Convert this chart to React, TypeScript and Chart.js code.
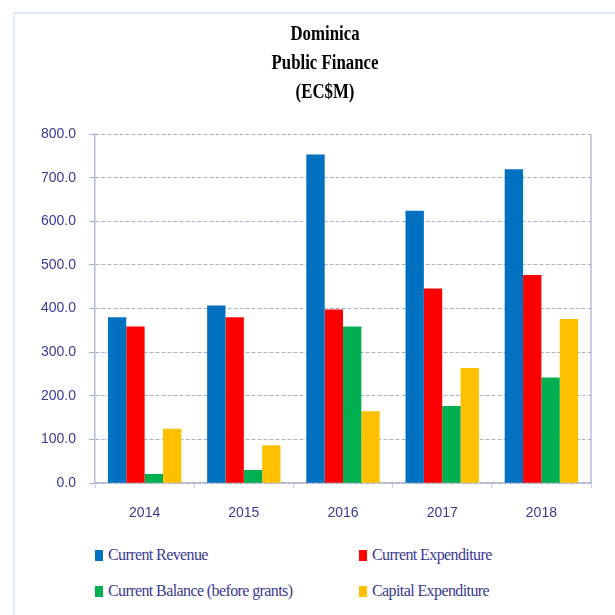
import React, { useEffect, useRef } from "react";
import { Chart, registerables } from "chart.js";

Chart.register(...registerables);

const years = ["2014", "2015", "2016", "2017", "2018"];
const currentRevenue = [380, 407, 753, 624, 719];
const currentExpenditure = [359, 380, 398, 446, 477];
const currentBalance = [21, 30, 359, 177, 242];
const capitalExpenditure = [125, 87, 165, 264, 376];
const seriesNames = [
  "Current Revenue",
  "Current Expenditure",
  "Current Balance (before grants)",
  "Capital Expenditure",
];
const seriesColors = ["#0070C0", "#FF0000", "#00B050", "#FFC000"];
const titleLines = ["Dominica", "Public Finance", "(EC$M)"];
const yMax = 800;
const yStep = 100;

const textBlue = "#3a3a92";

const rightBorder = {
  id: "rightBorder",
  afterDraw(chart: any) {
    const { ctx, chartArea } = chart;
    ctx.save();
    ctx.strokeStyle = "#b4bcd2";
    ctx.lineWidth = 1.5;
    ctx.beginPath();
    ctx.moveTo(chartArea.right, chartArea.top);
    ctx.lineTo(chartArea.right, chartArea.bottom);
    ctx.stroke();
    ctx.restore();
  },
};

export default function App() {
  const ref = useRef<HTMLCanvasElement | null>(null);

  useEffect(() => {
    if (!ref.current) return;
    const allData = [currentRevenue, currentExpenditure, currentBalance, capitalExpenditure];
    const chart = new Chart(ref.current, {
      type: "bar",
      data: {
        labels: years,
        datasets: allData.map((d, i) => ({
          label: seriesNames[i],
          data: d,
          backgroundColor: seriesColors[i],
          borderWidth: 0,
          categoryPercentage: 0.74,
          barPercentage: 1.0,
        })),
      },
      plugins: [rightBorder],
      options: {
        animation: false,
        responsive: false,
        maintainAspectRatio: false,
        layout: { padding: { left: 28, right: 24, top: 134, bottom: 0 } },
        plugins: {
          legend: { display: false },
          tooltip: { enabled: false },
          title: { display: false },
        },
        scales: {
          x: {
            grid: {
              display: true,
              drawOnChartArea: false,
              offset: true,
              tickLength: 5,
              color: "#c8cee0",
            },
            border: { display: true, color: "#b4bcd2", width: 1.5 },
            ticks: {
              color: textBlue,
              font: { family: "'Liberation Sans', Arial, sans-serif", size: 14 },
              padding: 17,
            },
          },
          y: {
            min: 0,
            max: yMax,
            ticks: {
              stepSize: yStep,
              color: textBlue,
              font: { family: "'Liberation Sans', Arial, sans-serif", size: 14 },
              padding: 13,
              callback: (v: any) => Number(v).toFixed(1),
            },
            grid: {
              color: "#a8b0cc",
              tickLength: 6,
            },
            border: { display: true, color: "#b4bcd2", width: 1.5, dash: [4, 2] },
          },
        },
      },
    } as any);
    return () => chart.destroy();
  }, []);

  const legendPos = [
    { x: 95, y: 555 },
    { x: 359, y: 555 },
    { x: 95, y: 591 },
    { x: 359, y: 591 },
  ];

  return (
    <div style={{ position: "absolute", left: 0, top: 0, width: 615, height: 615, background: "#fff", overflow: "hidden" }}>
      <div
        style={{
          position: "absolute",
          left: 13,
          top: 12,
          width: 640,
          height: 640,
          borderLeft: "2px solid #dde9f6",
          borderTop: "2px solid #dde9f6",
        }}
      />
      <canvas ref={ref} width={615} height={539} style={{ position: "absolute", left: 0, top: 0, width: 615, height: 539 }} />
      {titleLines.map((line, i) => (
        <div
          key={line}
          style={{
            position: "absolute",
            left: 125,
            width: 400,
            top: 19 + i * 29,
            height: 28,
            lineHeight: "28px",
            textAlign: "center",
            fontFamily: "'Liberation Serif', 'Times New Roman', serif",
            fontWeight: "bold",
            fontSize: 20,
            color: "#000",
            transform: "scaleX(0.84)",
            transformOrigin: "200px 0",
            whiteSpace: "nowrap",
          }}
        >
          {line}
        </div>
      ))}
      {seriesNames.map((name, i) => (
        <div
          key={name}
          style={{
            position: "absolute",
            left: legendPos[i].x,
            top: legendPos[i].y - 10,
            height: 20,
            display: "flex",
            alignItems: "center",
            fontFamily: "'Liberation Serif', 'Times New Roman', serif",
            fontSize: 16,
            letterSpacing: "-0.6px",
            color: textBlue,
            whiteSpace: "nowrap",
          }}
        >
          <span style={{ display: "inline-block", width: 8, height: 11, background: seriesColors[i], marginRight: 5 }} />
          <span>{name}</span>
        </div>
      ))}
    </div>
  );
}
